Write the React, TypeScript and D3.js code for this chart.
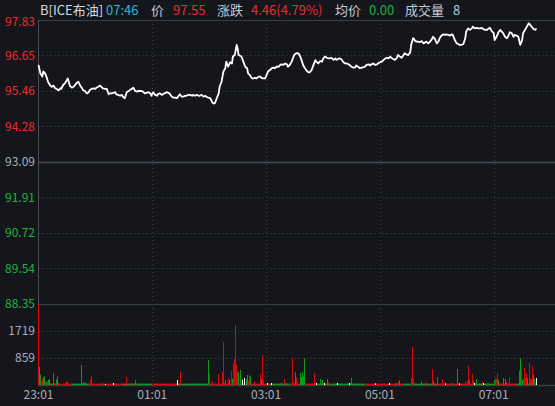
import React from "react";
import * as d3 from "d3";

// ---- data ----
const priceMinutes = [0,2,4,5,7,9,10,12,14,16,17,19,21,23,24,26,28,30,31,33,35,37,38,40,42,44,46,47,49,51,53,54,56,58,60,61,63,65,67,68,70,72,74,75,77,79,81,82,84,86,88,89,91,93,95,96,98,100,102,104,105,107,109,111,112,114,116,118,119,121,123,125,126,128,130,132,133,135,137,139,140,142,144,146,147,149,151,153,154,156,158,160,162,163,165,167,169,170,172,174,176,177,179,181,183,184,186,188,190,191,193,195,197,198,200,202,204,205,207,209,210,211,214,216,218,220,221,223,225,227,228,230,232,234,235,237,239,241,242,244,246,248,249,251,253,255,256,258,260,262,263,265,267,269,270,272,274,276,278,279,281,283,285,286,288,290,292,293,295,297,299,300,302,304,306,307,309,311,313,314,316,318,320,321,323,325,327,328,330,332,334,335,337,339,341,342,344,346,348,350,351,353,355,357,358,360,362,364,365,367,369,371,372,374,376,378,379,381,383,385,386,388,390,392,393,395,396,397,399,400,402,404,406,408,409,411,413,415,416,418,420,422,423,425,427,429,430,432,434,436,437,439,441,443,444,446,448,450,451,453,455,457,458,460,462,464,466,467,469,471,473,474,476,478,480,481,483,485,487,488,490,492,494,495,497,499,501,502,504,506,508,510,511,513,515,517,518,520,522,524,525];
const prices = [96.33,96.05,95.94,96.11,96.05,95.88,95.77,95.66,95.6,95.64,95.57,95.53,95.48,95.55,95.53,95.66,95.72,95.83,95.88,95.64,95.57,95.6,95.64,95.72,95.77,95.64,95.55,95.49,95.46,95.38,95.42,95.49,95.53,95.55,95.53,95.57,95.6,95.64,95.57,95.55,95.53,95.53,95.35,95.38,95.38,95.4,95.42,95.35,95.33,95.3,95.33,95.27,95.22,95.42,95.46,95.48,95.53,95.57,95.46,95.44,95.46,95.46,95.46,95.42,95.38,95.4,95.42,95.38,95.3,95.42,95.33,95.3,95.36,95.38,95.33,95.37,95.38,95.42,95.4,95.35,95.29,95.24,95.24,95.22,95.27,95.35,95.27,95.27,95.3,95.3,95.33,95.33,95.3,95.33,95.3,95.33,95.3,95.3,95.33,95.27,95.3,95.27,95.24,95.22,95.1,95.05,95.05,95.22,95.38,95.6,95.77,96.11,96.22,96.44,96.27,96.42,96.38,96.61,96.66,97.0,96.88,96.66,96.61,96.44,96.27,96.22,96.05,95.99,95.88,95.88,95.9,95.88,95.94,95.94,95.9,95.88,95.88,96.02,96.11,96.16,96.22,96.24,96.22,96.27,96.27,96.33,96.35,96.33,96.38,96.35,96.27,96.33,96.44,96.61,96.68,96.72,96.72,96.61,96.44,96.33,96.22,96.13,96.08,96.08,96.16,96.33,96.49,96.44,96.38,96.46,96.44,96.53,96.61,96.57,96.55,96.55,96.57,96.5,96.55,96.5,96.53,96.55,96.5,96.44,96.38,96.38,96.35,96.33,96.27,96.24,96.25,96.31,96.27,96.22,96.24,96.25,96.27,96.33,96.35,96.31,96.35,96.38,96.33,96.35,96.38,96.42,96.44,96.5,96.53,96.57,96.55,96.61,96.57,96.53,96.5,96.57,96.66,96.61,96.57,96.66,96.72,96.68,96.66,96.75,97.0,97.22,97.2,97.13,97.11,97.11,97.09,97.13,97.05,97.09,97.11,97.05,97.11,97.2,97.27,97.2,97.05,97.13,97.22,97.31,97.35,97.33,97.35,97.33,97.31,97.35,97.33,97.16,97.05,97.02,97.0,97.0,97.02,97.22,97.44,97.55,97.5,97.55,97.61,97.55,97.57,97.55,97.55,97.57,97.53,97.5,97.5,97.53,97.57,97.46,97.39,97.16,97.27,97.42,97.5,97.46,97.39,97.27,97.22,97.27,97.42,97.39,97.27,97.33,97.31,97.27,97.0,97.16,97.39,97.5,97.61,97.72,97.69,97.61,97.53,97.5,97.55];

// notable volume bars: minute, volume, colour (r = up, g = down, w = flat)
const volMinutes = [
  0,1,2,3,4,5,6,7,8,9,10,11,12,13,14,16,17,19,20,21,
  30,31,45,47,50,55,56,67,71,79,93,99,102,126,147,150,
  179,180,184,190,194,195,197,200,201,204,205,206,207,208,209,210,211,213,215,217,219,220,221,222,223,224,228,234,235,236,237,241,246,256,259,
  268,269,271,272,273,276,277,278,279,280,281,282,291,293,297,299,300,302,305,306,315,328,330,355,370,377,380,381,
  393,394,395,404,409,416,417,421,426,429,437,442,444,450,452,453,454,458,459,460,462,468,469,
  481,482,483,484,485,490,492,493,497,507,508,509,510,511,512,513,514,515,516,518,519,520,521,522,523,524,525,
];
const volValues = [
  2578,572,330,117,190,244,276,117,95,64,138,170,190,64,42,380,64,170,276,64,
  117,95,636,85,85,170,286,53,32,64,254,64,160,53,160,413,
  795,380,117,350,413,1367,160,223,160,445,190,700,837,1908,647,435,413,477,170,223,190,318,138,170,318,276,117,350,190,954,160,64,64,64,190,
  859,117,413,244,95,381,254,413,276,138,859,64,381,64,190,95,160,64,190,95,64,64,223,53,64,64,117,148,
  223,1208,201,117,95,509,138,254,190,53,53,509,53,117,138,615,170,350,138,64,190,95,64,
  160,223,201,381,160,223,190,95,254,456,859,541,160,190,201,541,223,381,223,700,223,170,594,330,201,64,223,
];
const volColors = [
  "r","g","g","r","r","g","g","r","g","r","r","g","g","r","g","g","r","g","g","r",
  "r","r","g","g","g","r","r","g","w","w","r","r","g","r","w","r",
  "g","r","r","r","r","r","g","r","g","r","g","r","r","r","r","r","g","g","w","w","g","g","r","g","r","g","r","r","g","r","r","w","w","g","r",
  "r","r","g","r","r","g","g","g","g","w","g","r","r","w","g","r","g","w","g","r","w","w","g","w","w","g","r","g",
  "r","r","r","g","r","r","g","g","r","w","g","g","w","r","r","r","g","r","r","w","g","r","w",
  "g","r","r","r","g","g","g","r","r","g","g","r","g","r","g","r","r","r","g","r","r","g","r","g","g","r","w",
];
// thin strip of small bars along the volume floor: [from, to) minute, colour
const lowFrom = [0, 18, 36, 54, 90, 120, 148, 180, 245, 265, 295, 345, 385, 420, 460, 480, 505];
const lowTo = [18, 36, 54, 90, 120, 148, 180, 245, 265, 295, 345, 385, 420, 460, 480, 505, 526];
const lowColor = ["g", "r", "g", "r", "g", "r", "g", "r", "g", "r", "g", "r", "g", "r", "g", "r", "g"];
const lowVolume = 45;

const priceTicks = [97.83, 96.65, 95.46, 94.28, 93.09, 91.91, 90.72, 89.54, 88.35];
const preClose = 93.09;
const volTicks = [859, 1719];
const volMax = 2578;
const timeTicks = [0, 120, 240, 360, 480];
const timeLabels = ["23:01", "01:01", "03:01", "05:01", "07:01"];
const sessionMinutes = 540;

const header = [
  { t: "B[ICE布油]", x: 40, c: "#d4dae2" },
  { t: "07:46", x: 106, c: "#2fb3d9" },
  { t: "价", x: 151, c: "#c4cad2" },
  { t: "97.55", x: 173, c: "#ee2a2f" },
  { t: "涨跌", x: 217, c: "#c4cad2" },
  { t: "4.46(4.79%)", x: 251, c: "#ee2a2f" },
  { t: "均价", x: 335, c: "#c4cad2" },
  { t: "0.00", x: 369, c: "#1db33e" },
  { t: "成交量", x: 405, c: "#c4cad2" },
  { t: "8", x: 453, c: "#a8cbe8" },
];

const W = 555, H = 406;
const L = 38.5, R = 555, TOP = 20, MID = 304, BOT = 385;
const FONT = "'Noto Sans CJK SC', 'Noto Sans', sans-serif";
const RED = "#ee2a2f", GREEN = "#1db33e", GRAY = "#a7afbd";
const BAR = { r: "#d50a0a", g: "#0f9a16", w: "#ffffff" } as Record<string, string>;

export default function App() {
  const x = d3.scaleLinear().domain([0, sessionMinutes]).range([L, L + sessionMinutes * 0.9483]);
  const y = d3.scaleLinear().domain([88.35, 97.83]).range([MID, TOP]);
  const yv = d3.scaleLinear().domain([0, volMax]).range([BOT, MID]);
  const line = d3.line<number>().x((_, i) => x(priceMinutes[i])).y((d) => y(d)).curve(d3.curveLinear);

  const taken = new Set(volMinutes);
  const lowBars: { m: number; c: string }[] = [];
  lowFrom.forEach((f, i) => {
    for (let m = f; m < lowTo[i]; m++) if (!taken.has(m)) lowBars.push({ m, c: lowColor[i] });
  });

  return (
    <svg width={W} height={H} style={{ position: "absolute", left: 0, top: 0, background: "#14161b" }}>
      <rect x={0} y={0} width={W} height={H} fill="#14161b" />
      {header.map((h, i) => (
        <text key={i} x={h.x} y={15} fill={h.c} fontSize={13} fontFamily={FONT}>{h.t}</text>
      ))}
      {priceTicks.slice(1, -1).filter((p) => p !== preClose).map((p, i) => (
        <line key={"hg" + i} x1={L} x2={R} y1={Math.round(y(p)) + 0.5} y2={Math.round(y(p)) + 0.5} stroke="#3d4048" strokeDasharray="1,3" />
      ))}
      {volTicks.map((v, i) => (
        <line key={"vg" + i} x1={L} x2={R} y1={Math.round(yv(v)) + 0.5} y2={Math.round(yv(v)) + 0.5} stroke="#3d4048" strokeDasharray="1,3" />
      ))}
      {timeTicks.slice(1).map((m, i) => (
        <line key={"tg" + i} x1={Math.round(x(m)) + 0.5} x2={Math.round(x(m)) + 0.5} y1={TOP} y2={BOT} stroke="#3d4048" strokeDasharray="1,3" />
      ))}
      <line x1={L} x2={R} y1={TOP + 0.5} y2={TOP + 0.5} stroke="#3a3d44" />
      <line x1={L} x2={R} y1={Math.round(y(preClose)) + 0.5} y2={Math.round(y(preClose)) + 0.5} stroke="#484b52" strokeWidth={1.5} />
      <line x1={L} x2={R} y1={MID + 0.5} y2={MID + 0.5} stroke="#3a3d44" />
      <line x1={L} x2={R} y1={BOT + 0.5} y2={BOT + 0.5} stroke="#3a3d44" strokeWidth={1.5} />
      <line x1={L} x2={L} y1={TOP} y2={BOT} stroke="#4a4d54" />
      {priceTicks.map((p, i) => {
        const yy = i === 0 ? y(p) + 1.8 : y(p);
        const c = p > preClose ? RED : p < preClose ? GREEN : GRAY;
        return (
          <text key={"pl" + i} x={35} y={yy} dy="0.36em" textAnchor="end" fill={c} fontSize={12} fontFamily={FONT}>{p.toFixed(2)}</text>
        );
      })}
      {volTicks.map((v, i) => (
        <text key={"vl" + i} x={35} y={yv(v)} dy="0.36em" textAnchor="end" fill={GRAY} fontSize={12} fontFamily={FONT}>{v}</text>
      ))}
      {timeTicks.map((m, i) => (
        <text key={"tl" + i} x={x(m)} y={395} dy="0.36em" textAnchor="middle" fill={GRAY} fontSize={12} fontFamily={FONT}>{timeLabels[i]}</text>
      ))}
      {lowBars.map((b, i) => {
        const top = yv(lowVolume);
        return <rect key={"lb" + i} x={Math.floor(x(b.m))} y={top} width={1} height={BOT - top} fill={BAR[b.c]} />;
      })}
      {volMinutes.map((m, i) => {
        const top = yv(volValues[i]);
        return <rect key={"b" + i} x={Math.floor(x(m))} y={top} width={1} height={BOT - top} fill={BAR[volColors[i]]} />;
      })}
      <path d={line(prices) || ""} fill="none" stroke="#ffffff" strokeWidth={1.8} strokeLinejoin="round" />
    </svg>
  );
}
